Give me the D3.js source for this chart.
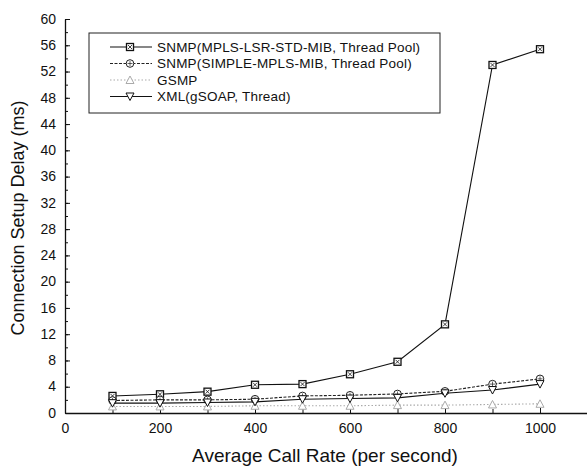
<!DOCTYPE html>
<html>
<head>
<meta charset="utf-8">
<script src="https://cdn.jsdelivr.net/npm/d3@7"></script>
<style>
  body { margin: 0; background: #fff; }
  text { font-family: "Liberation Sans", Arial, sans-serif; fill: #111; }
</style>
</head>
<body>
<svg id="chart" width="587" height="470"></svg>
<script>
// call rates on x axis
var rates = [100, 200, 300, 400, 500, 600, 700, 800, 900, 1000];
// delays in ms
var snmpLsr = [2.6, 2.85, 3.25, 4.3, 4.4, 5.9, 7.8, 13.5, 53.0, 55.4];
var snmpSimple = [1.9, 2.0, 2.0, 2.1, 2.6, 2.7, 2.9, 3.3, 4.4, 5.2];
var gsmp = [1.0, 1.0, 1.0, 1.1, 1.1, 1.1, 1.2, 1.2, 1.3, 1.4];
var xmlThread = [1.5, 1.5, 1.6, 1.7, 2.1, 2.2, 2.3, 3.0, 3.5, 4.4];
var seriesNames = ["SNMP(MPLS-LSR-STD-MIB, Thread Pool)", "SNMP(SIMPLE-MPLS-MIB, Thread Pool)", "GSMP", "XML(gSOAP, Thread)"];
var yTicks = [0, 4, 8, 12, 16, 20, 24, 28, 32, 36, 40, 44, 48, 52, 56, 60];
var xTicks = [0, 200, 400, 600, 800, 1000];

var series = [
  { name: seriesNames[0], values: snmpLsr, marker: "squareX", color: "#111", dash: null },
  { name: seriesNames[1], values: snmpSimple, marker: "circlePlus", color: "#222", dash: "3,1.5" },
  { name: seriesNames[2], values: gsmp, marker: "triUp", color: "#aaa", dash: "1.5,2" },
  { name: seriesNames[3], values: xmlThread, marker: "triDown", color: "#111", dash: null }
];

var svg = d3.select("#chart");
var padding = { top: 19, right: 0, bottom: 57, left: 65 };
var width = +svg.attr("width");
var height = +svg.attr("height");

var xScale = d3.scaleLinear()
               .domain([0, 1100])
               .range([padding.left, padding.left + 522.5]);
var yScale = d3.scaleLinear()
               .domain([0, 60])
               .range([height - padding.bottom, padding.top]);

// minor ticks first
svg.append("g")
    .attr("transform", "translate(0," + yScale(0) + ")")
    .call(d3.axisBottom(xScale).tickValues(d3.range(0, 1101, 100)).tickSize(-4).tickFormat(""))
    .call(g => g.select(".domain").remove());
svg.append("g")
    .attr("transform", "translate(" + xScale(0) + ",0)")
    .call(d3.axisLeft(yScale).tickValues(d3.range(0, 61, 2)).tickSize(-3).tickFormat(""))
    .call(g => g.select(".domain").remove());

var xAxis = svg.append("g")
    .attr("transform", "translate(0," + yScale(0) + ")")
    .call(d3.axisBottom(xScale).tickValues(xTicks).tickSize(-5).tickPadding(10)
            .tickSizeOuter(0).tickFormat(d3.format("d")));
xAxis.selectAll("text").style("font-size", "14px");

var yAxis = svg.append("g")
    .attr("transform", "translate(" + xScale(0) + ",0)")
    .call(d3.axisLeft(yScale).tickValues(yTicks).tickSize(-5).tickPadding(9).tickSizeOuter(0));
yAxis.selectAll("text").style("font-size", "14px").attr("dy", "0.3em");

svg.selectAll(".domain").attr("stroke", "#111").attr("stroke-width", 1.3);
svg.selectAll(".tick line").attr("stroke", "#111");

svg.append("text")
    .attr("x", 325)
    .attr("y", 462)
    .style("text-anchor", "middle")
    .style("font-size", "19px")
    .text("Average Call Rate (per second)");

svg.append("text")
    .attr("transform", "rotate(-90)")
    .attr("x", -218)
    .attr("y", 24)
    .style("text-anchor", "middle")
    .style("font-size", "18px")
    .text("Connection Setup Delay (ms)");

function drawMarker(g, type, x, y, color) {
  var m = g.append("g").attr("transform", "translate(" + x + "," + y + ")")
           .attr("fill", "#fff").attr("stroke", color).attr("stroke-width", 1);
  if (type === "squareX") {
    m.append("rect").attr("x", -3.5).attr("y", -3.5).attr("width", 7).attr("height", 7).attr("stroke-width", 1.3);
    m.append("path").attr("d", "M-2,-2L2,2M-2,2L2,-2").attr("stroke-width", 0.8);
  } else if (type === "circlePlus") {
    m.append("circle").attr("r", 3.8);
    m.append("path").attr("d", "M-2.5,0L2.5,0M0,-2.5L0,2.5").attr("stroke-width", 0.7);
  } else if (type === "triUp") {
    m.append("path").attr("d", "M0,-4L4,3.5L-4,3.5Z");
  } else {
    m.append("path").attr("d", "M-4,-3.5L4,-3.5L0,4Z");
  }
}

var line = d3.line()
             .x((d, i) => xScale(rates[i]))
             .y(d => yScale(d));

series.forEach(function (s) {
  var g = svg.append("g");
  g.append("path")
      .attr("d", line(s.values))
      .attr("fill", "none")
      .attr("stroke", s.color)
      .attr("stroke-width", 1.1)
      .attr("stroke-dasharray", s.dash);
  s.values.forEach((v, i) => drawMarker(g, s.marker, xScale(rates[i]), yScale(v), s.color));
});

// legend
var legend = svg.append("g").attr("transform", "translate(89,33)");
legend.append("rect")
    .attr("width", 351)
    .attr("height", 80)
    .attr("fill", "#fff")
    .attr("stroke", "#222")
    .attr("stroke-width", 1);
series.forEach(function (s, i) {
  var ly = 14 + i * 16.5;
  legend.append("path")
      .attr("d", "M21," + ly + "L63," + ly)
      .attr("stroke", s.color)
      .attr("stroke-width", 1.1)
      .attr("stroke-dasharray", s.dash);
  drawMarker(legend, s.marker, 41, ly, s.color);
  legend.append("text")
      .attr("x", 68)
      .attr("y", ly)
      .attr("dy", "0.35em")
      .style("font-size", "13.5px")
      .style("letter-spacing", "0.2px")
      .text(s.name);
});
</script>
</body>
</html>
